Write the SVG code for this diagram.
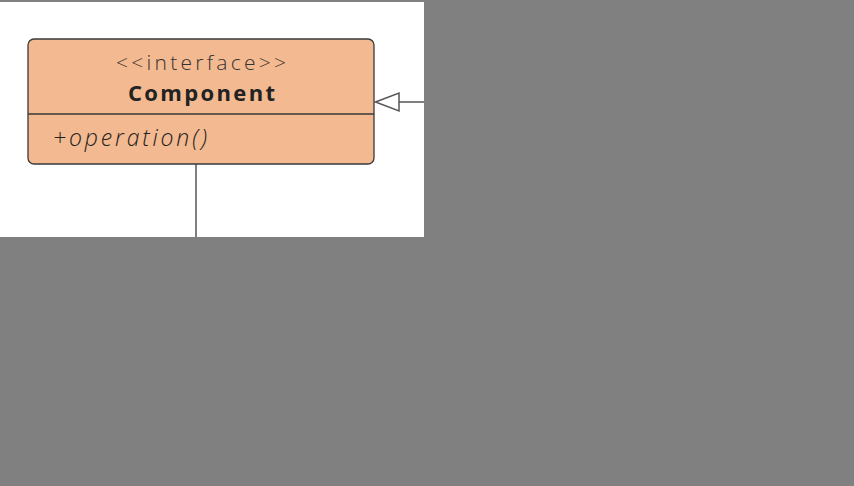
<svg xmlns="http://www.w3.org/2000/svg" width="854" height="486" viewBox="0 0 854 486">
<style>
.node{fill:#F3B990;stroke:#3a3a3a;stroke-width:1.3}
.sep{stroke:#3a3a3a;stroke-width:1.3}
.conn{stroke:#555;stroke-width:1.5;fill:none}
.head{fill:#fff;stroke:#555;stroke-width:1.5}
text{font-family:"Open Sans","Liberation Sans",sans-serif;fill:#222}
.st{font-size:21px;font-weight:300;fill:#333}
.nm{font-size:22px;font-weight:bold}
.op{font-size:23px;font-style:italic;font-weight:300}
</style>
<rect x="0" y="0" width="854" height="486" fill="#808080"/>
<rect x="0" y="2" width="424" height="235" fill="#ffffff"/>
<g id="connectors">
<line class="conn" x1="196" y1="164" x2="196" y2="237"/>
<line class="conn" x1="399" y1="102" x2="424" y2="102"/>
<polygon class="head" points="375.5,102 399,93 399,111"/>
</g>
<g id="component">
<rect class="node" x="28" y="39" width="346" height="125" rx="6"/>
<line class="sep" x1="28" y1="114" x2="374" y2="114"/>
<text class="st" x="116" y="70" textLength="170" lengthAdjust="spacing">&lt;&lt;interface&gt;&gt;</text>
<text class="nm" x="128" y="101" textLength="147" lengthAdjust="spacing">Component</text>
<text class="op" x="53" y="146" textLength="154" lengthAdjust="spacing">+operation()</text>
</g>
</svg>
